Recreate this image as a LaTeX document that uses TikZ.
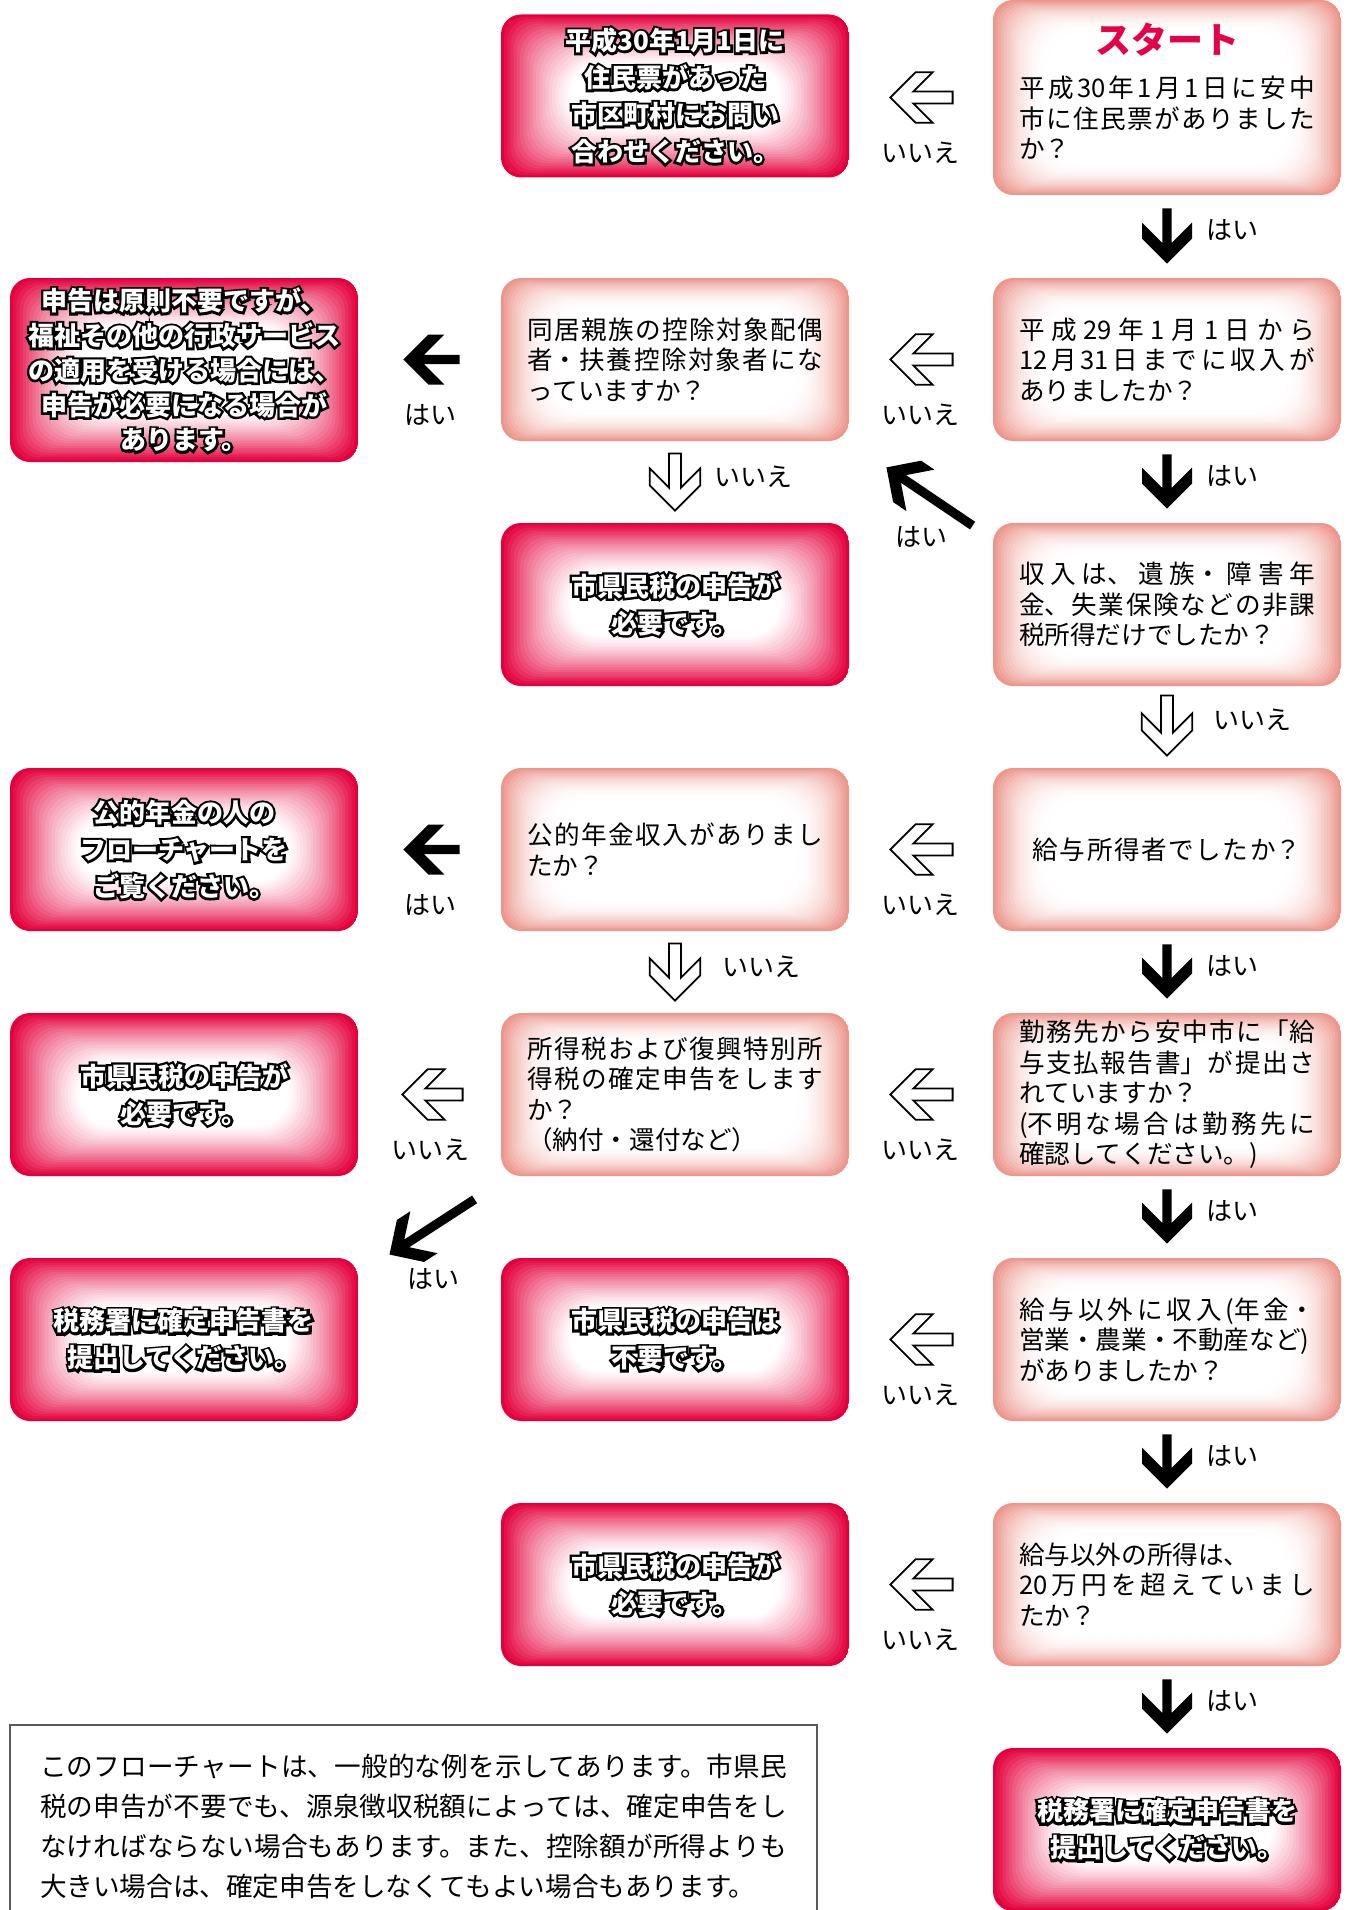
\documentclass[tikz,border=0pt]{standalone}
\usepackage{fontspec}
\setmainfont{Noto Sans CJK JP}
\newfontfamily\outlfam{Noto Sans CJK JP}[BoldFeatures={FakeBold=18}]
\usetikzlibrary{calc}

\XeTeXlinebreaklocale "ja"
\XeTeXlinebreakskip=0pt plus 3pt

\definecolor{paleedge}{RGB}{236,150,140}
\definecolor{rededge}{RGB}{228,0,60}
\definecolor{startred}{RGB}{230,0,72}
\definecolor{notegray}{RGB}{90,90,90}

\newcommand\qfont{\fontsize{12.8pt}{15.25pt}\selectfont\tolerance=10000 }
\newcommand\rfont{\fontsize{13pt}{18.5pt}\selectfont\bfseries}
\newcommand\lfont{\fontsize{13pt}{15pt}\selectfont}
\newcommand\nfont{\fontsize{13.3pt}{20pt}\selectfont\tolerance=10000 }
\newcommand\outl[1]{\leavevmode\rlap{\outlfam\bfseries\color{black}#1}#1}

% style, shaft, head, arm, tail, tip
\newcommand\blockarrow[6]{%
  \path (#5) coordinate (bt) (#6) coordinate (bp);
  \pgfmathanglebetweenpoints{\pgfpointanchor{bt}{center}}{\pgfpointanchor{bp}{center}}%
  \let\barang\pgfmathresult
  \pgfpointdiff{\pgfpointanchor{bt}{center}}{\pgfpointanchor{bp}{center}}%
  \pgfgetlastxy{\bdx}{\bdy}%
  \pgfmathsetmacro\barlen{veclen(\bdx,\bdy)}%
  \path[#1, x=1pt, y=1pt, shift={(bt)}, rotate=\barang]
    (0,#2) -- ({\barlen-#4-#2},#2) -- ({\barlen-#3-#4},#3) -- ({\barlen-#3},#3)
    -- (\barlen,0) -- ({\barlen-#3},-#3) -- ({\barlen-#3-#4},-#3)
    -- ({\barlen-#4-#2},-#2) -- (0,-#2) -- cycle;
}
\newcommand\hollowarrow[2]{\blockarrow{hollowarr}{3}{12.6}{8.5}{#1}{#2}}
\newcommand\solidarrow[2]{\blockarrow{solidarr}{2.3}{12.5}{8}{#1}{#2}}

\begin{document}
\begin{tikzpicture}
[x=0.5pt, y=-0.5pt,
  box/.style={rounded corners=10pt, minimum width=174pt, minimum height=81.5pt,
    inner sep=0pt, fill=white},
  qtext/.style={font=\qfont, text width=148pt, align=justify, inner sep=0pt},
  pale/.style={box, qtext, path picture={
    \foreach \k in {0,...,20}{
      \pgfmathsetmacro\mix{100*(1-\k/20)^2.2}
      \pgfmathsetmacro\rad{min(10+\k*0.5,(81.5-2*\k*0.8)/2-0.5)}
      \fill[paleedge!\mix!white, rounded corners=\rad pt]
        ([shift={(\k*1.4pt,-\k*0.8pt)}]path picture bounding box.north west) rectangle
        ([shift={(-\k*1.4pt,\k*0.8pt)}]path picture bounding box.south east);
    }}},
  red/.style={box, font=\rfont, text=white, align=center, path picture={
    \foreach \k in {0,...,22}{
      \pgfmathsetmacro\mix{100*(1-\k/22)^1.4}
      \pgfmathsetmacro\rad{min(10+\k*0.6,(81.5-2*\k*1.15)/2-0.5)}
      \fill[rededge!\mix!white, rounded corners=\rad pt]
        ([shift={(\k*1.6pt,-\k*1.15pt)}]path picture bounding box.north west) rectangle
        ([shift={(-\k*1.6pt,\k*1.15pt)}]path picture bounding box.south east);
    }}},
  ans/.style={font=\lfont, inner sep=0pt},
  hollowarr/.style={draw=black, fill=white, line width=0.9pt, line join=miter},
  solidarr/.style={fill=black},
  notebox/.style={draw=notegray, line width=0.7pt, minimum width=403.5pt,
    minimum height=101pt, text width=373.5pt, align=justify, font=\nfont, inner sep=0pt}]
\useasboundingbox (0,0) rectangle (1351,1910);

% boxes
\node[pale, minimum height=97.5pt] (r1) at (1167,97.5) {};
\node[font=\fontsize{18pt}{20pt}\selectfont\bfseries, text=startred, inner sep=0pt]
  (st) at (1167,40) {スタート};
\node[qtext] (r1q) at (1167,118) {平成30年1月1日に安中\linebreak 市に住民票がありました\linebreak か？};
\node[red] (m1) at (675,96)
  {\outl{平成30年1月1日に}\\\outl{住民票があった}\\\outl{市区町村にお問い}\\\outl{合わせください。}};

\node[pale] (r2) at (1167,359.5) {平成29年1月1日から\linebreak 12月31日までに収入が\linebreak ありましたか？};
\node[pale] (m2) at (675,359.5) {同居親族の控除対象配偶\linebreak 者・扶養控除対象者にな\linebreak っていますか？};
\node[red, minimum height=92pt, font=\fontsize{13pt}{17.4pt}\selectfont\bfseries] (l2) at (184,370)
  {\outl{申告は原則不要ですが、}\\\outl{福祉その他の行政サービス}\\\outl{の適用を受ける場合には、}\\\outl{申告が必要になる場合が}\\\outl{あります。}};

\node[pale] (r3) at (1167,604.5) {収入は、遺族・障害年\linebreak 金、失業保険などの非課\linebreak 税所得だけでしたか？};
\node[red] (m3) at (675,604.5) {\outl{市県民税の申告が}\\\outl{必要です。}};

\node[pale, align=center] (r4) at (1167,849.5) {給与所得者でしたか？};
\node[pale] (m4) at (675,849.5) {公的年金収入がありまし\linebreak たか？};
\node[red] (l4) at (184,849.5) {\outl{公的年金の人の}\\\outl{フローチャートを}\\\outl{ご覧ください。}};

\node[pale] (r5) at (1167,1094.5) {勤務先から安中市に「給\linebreak 与支払報告書」が提出さ\linebreak れていますか？\\(不明な場合は勤務先に\linebreak 確認してください。)};
\node[pale] (m5) at (675,1094.5) {所得税および復興特別所\linebreak 得税の確定申告をします\linebreak か？\\（納付・還付など）};
\node[red] (l5) at (184,1094.5) {\outl{市県民税の申告が}\\\outl{必要です。}};

\node[pale] (r6) at (1167,1339.5) {給与以外に収入(年金・\linebreak 営業・農業・不動産など)\\がありましたか？};
\node[red] (m6) at (675,1339.5) {\outl{市県民税の申告は}\\\outl{不要です。}};
\node[red] (l6) at (184,1339.5) {\outl{税務署に確定申告書を}\\\outl{提出してください。}};

\node[pale] (r7) at (1167,1584.5) {給与以外の所得は、\\20万円を超えていまし\linebreak たか？};
\node[red] (m7) at (675,1584.5) {\outl{市県民税の申告が}\\\outl{必要です。}};

\node[red] (r8) at (1167,1829.5) {\outl{税務署に確定申告書を}\\\outl{提出してください。}};

\node[notebox] (note) at (413.5,1826) {このフローチャートは、一般的な例を示してあります。市県民\linebreak 税の申告が不要でも、源泉徴収税額によっては、確定申告をし\linebreak なければならない場合もあります。また、控除額が所得よりも\linebreak 大きい場合は、確定申告をしなくてもよい場合もあります。};

% right column, yes
\foreach \i/\j in {1/2,2/3,4/5,5/6,6/7,7/8}{
  \solidarrow{$(r\i.south)+(0,13)$}{$(r\j.north)+(0,-14)$}
  \node[ans] (yes\i) at ($(r\i.south)+(65,35)$) {はい};
}
\hollowarrow{$(r3.south)+(0,9)$}{$(r4.north)+(0,-12)$}
\node[ans] (no3) at ($(r3.south)+(85,33)$) {いいえ};

% right to middle, no
\hollowarrow{$(r1.west)+(-40,0)$}{$(m1.east)+(41,1.5)$}
\node[ans] (no1) at ($(r1.west)+(-72,55)$) {いいえ};
\foreach \i in {2,4,5,6,7}{
  \hollowarrow{$(r\i.west)+(-40,0)$}{$(m\i.east)+(41,0)$}
  \node[ans] (nor\i) at ($(r\i.west)+(-72,55)$) {いいえ};
}

% middle column
\hollowarrow{$(m2.south)+(0,12)$}{$(m3.north)+(0,-12)$}
\node[ans] (nom2) at ($(m2.south)+(78,35)$) {いいえ};
\hollowarrow{$(m4.south)+(0,12)$}{$(m5.north)+(0,-12)$}
\node[ans] (nom4) at ($(m4.south)+(86,35)$) {いいえ};

\solidarrow{$(m2.west)+(-41,0)$}{$(l2.east|-m2.east)+(45,0)$}
\node[ans] (yesm2) at ($(m2.west)+(-70,55)$) {はい};
\solidarrow{$(m4.west)+(-41,0)$}{$(l4.east)+(45,0)$}
\node[ans] (yesm4) at ($(m4.west)+(-70,55)$) {はい};
\hollowarrow{$(m5.west)+(-38,0)$}{$(l5.east)+(44,0)$}
\node[ans] (nom5) at ($(m5.west)+(-70,55)$) {いいえ};

% slanted ones
\solidarrow{$(r3.north west)+(-20,3)$}{$(m2.south east)+(37,26)$}
\node[ans] (yes3) at ($(r3.north west)+(-71,14)$) {はい};
\solidarrow{$(m5.south west)+(-26,23)$}{$(l6.north east)+(31,-3)$}
\node[ans] (yesm5) at ($(l6.north east)+(75,21)$) {はい};
\end{tikzpicture}
\end{document}
